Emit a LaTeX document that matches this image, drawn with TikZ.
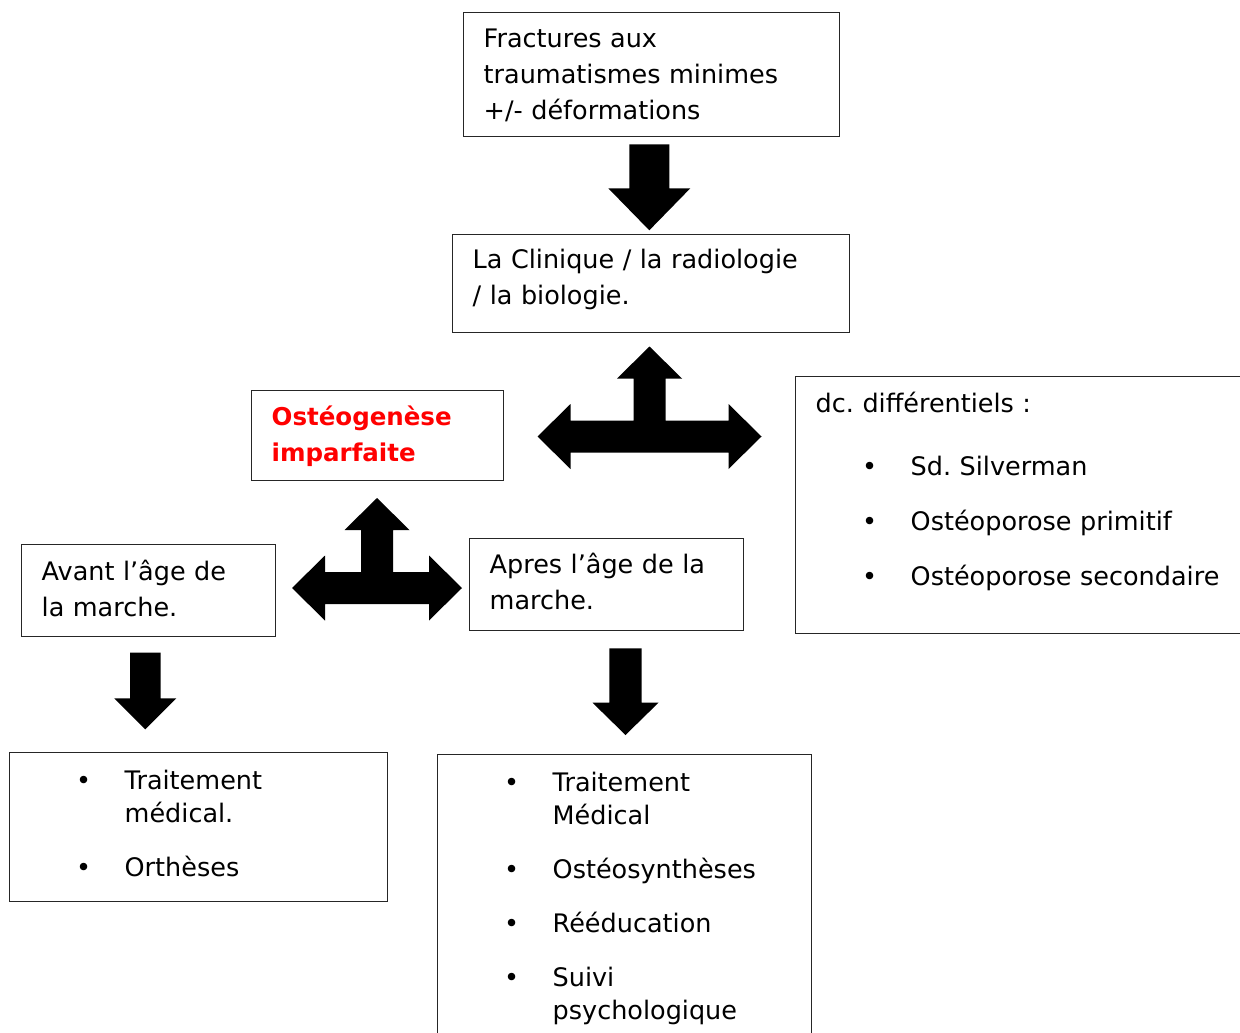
\documentclass[tikz,border=0pt]{standalone}
\usepackage{fontspec}
\setmainfont{DejaVu Sans}
\usetikzlibrary{positioning}
\frenchspacing

\newcommand{\puce}{\hspace*{54pt}\makebox[0pt]{\textbullet}\hspace*{41pt}}
\newcommand{\retrait}{\hspace*{95pt}}

\begin{document}
\begin{tikzpicture}[x=1pt, y=-1pt,
    box/.style={draw=black!85, line width=1.4pt, anchor=north west, align=left,
      inner xsep=20pt, inner ysep=0pt, font=\fontsize{25.5}{36}\selectfont},
    titre/.style={box, text=red, font=\fontsize{24.5}{36}\selectfont\bfseries},
    pics/bas/.style n args={4}{code={
      \fill (-#1,0) -- (#1,0) -- (#1,{#3-#4}) -- (#2,{#3-#4}) -- (0,#3)
        -- (-#2,{#3-#4}) -- (-#1,{#3-#4}) -- cycle;}},
    pics/te/.style={code={
      \fill (0,-90) -- (32.5,-58) -- (16,-58) -- (16,-16) -- ({#1-33},-16)
        -- ({#1-33},-32.5) -- (#1,0) -- ({#1-33},32.5) -- ({#1-33},16)
        -- ({33-#1},16) -- ({33-#1},32.5) -- (-#1,0) -- ({33-#1},-32.5)
        -- ({33-#1},-16) -- (-16,-16) -- (-16,-58) -- (-32.5,-58) -- cycle;}}]
  \useasboundingbox (0,0) rectangle (1240,1033);

  \node[box, text width=336pt, text height=35pt, text depth=89pt] (fractures) at (463,12)
    {Fractures aux\\traumatismes minimes\\+/- déformations};
  \node[box, text width=357pt, text height=34pt, text depth=64pt] (clinique) at (452,234)
    {La Clinique / la radiologie\\/ la biologie.};
  \node[titre, text width=212pt, text height=35pt, text depth=55pt] (oi) at (251,390)
    {Ostéogenèse\\imparfaite};
  \node[box, text width=465pt, text height=36pt, text depth=221pt] (diff) at (795,376)
    {dc. différentiels :\\[27pt]
     \puce Sd. Silverman\\[19pt]
     \puce Ostéoporose primitif\\[19pt]
     \puce Ostéoporose secondaire};
  \node[box, text width=214pt, text height=36pt, text depth=56pt] (avant) at (21,544)
    {Avant l’âge de\\la marche.};
  \node[box, text width=234pt, text height=35pt, text depth=57pt] (apres) at (469,538)
    {Apres l’âge de la\\marche.};
  \node[box, text width=338pt, text height=37pt, text depth=112pt] (ttavant) at (9,752)
    {\puce Traitement\\[-3pt]\retrait médical.\\[18pt]
     \puce Orthèses};
  \node[box, text width=334pt, text height=37pt, text depth=260pt] (ttapres) at (437,754)
    {\puce Traitement\\[-3pt]\retrait Médical\\[18pt]
     \puce Ostéosynthèses\\[18pt]
     \puce Rééducation\\[18pt]
     \puce Suivi\\[-3pt]\retrait psychologique};

  % block arrows
  \pic at (649.3,144.3) {bas={20}{41}{86}{42}};
  \pic at (145.3,652.7) {bas={15.3}{31}{76.6}{31}};
  \pic at (625.5,648.3) {bas={16.2}{33}{86.7}{32.3}};
  \pic at (649.5,436.5) {te=112};
  \pic at (377,588) {te=85};
\end{tikzpicture}
\end{document}
